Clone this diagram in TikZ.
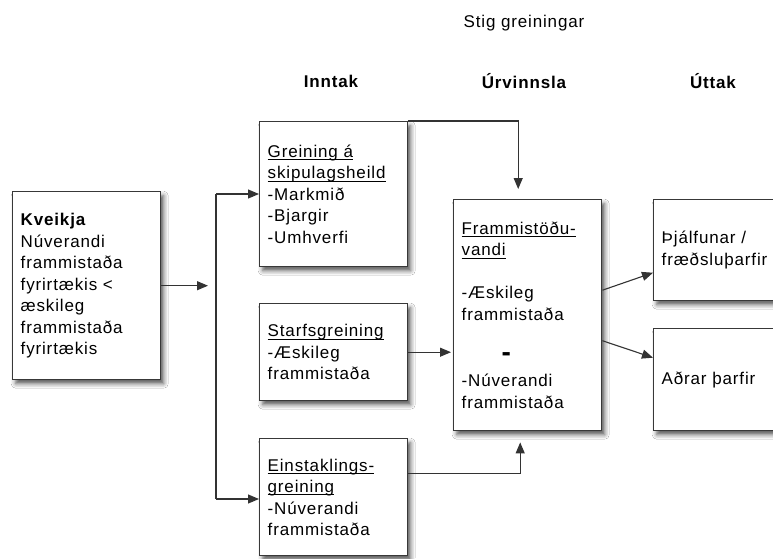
\documentclass[tikz,border=0pt]{standalone}
\usepackage{fontspec}
\setmainfont{Liberation Sans}[LetterSpace=5]
\usetikzlibrary{arrows.meta,shadows.blur}

% underline set just below the baseline, across descenders
\newsavebox\ulsave
\newcommand\ulbox[1]{\leavevmode\sbox\ulsave{#1}\rlap{\rule[-2.8pt]{\wd\ulsave}{0.9pt}}\usebox\ulsave}
\newcommand\bodyfont{\fontsize{17}{21.5}\selectfont}

\tikzset{
  box/.style={draw=black!78, line width=1.4pt, fill=white, rectangle,
    inner xsep=8pt, inner ysep=0pt, align=left, anchor=north west,
    minimum width=148pt, text width=132pt, text=black, font=\bodyfont,
    blur shadow={shadow xshift=3pt, shadow yshift=-4pt,
      shadow blur radius=4.5pt, shadow opacity=65}},
  conn/.style={draw=black!80, line width=1.1pt},
  arr/.style={conn, -{Triangle[length=11pt,width=9pt]}},
  head/.style={font=\bodyfont, text=black},
}

\begin{document}
\begin{tikzpicture}[x=1pt, y=-1pt]
\useasboundingbox (0,0) rectangle (773,558);
\fill[white] (0,0) rectangle (773,558);
\clip (0,0) rectangle (773,558);

% column headings
\node[head] (stig) at (524,23) {Stig greiningar};
\node[head, font=\bodyfont\bfseries] (inntak) at (331,81) {Inntak};
\node[head, font=\bodyfont\bfseries] (urvinnsla) at (524,81) {Úrvinnsla};
\node[head, font=\bodyfont\bfseries] (uttak) at (713,81) {Úttak};

% trigger
\node[box, minimum height=188pt] (kveikja) at (12,191)
  {\textbf{Kveikja}\\Núverandi\\frammistaða\\fyrirtækis <\\æskileg\\frammistaða\\fyrirtækis};

% input analyses
\node[box, minimum height=145pt] (greining) at (259,121)
  {\ulbox{Greining á}\\\ulbox{skipulagsheild}\\-Markmið\\-Bjargir\\-Umhverfi};
\node[box, minimum height=97pt] (starf) at (259,303)
  {\ulbox{Starfsgreining}\\-Æskileg\\frammistaða};
\node[box, minimum height=117pt] (einst) at (259,438)
  {\ulbox{Einstaklings-}\\\ulbox{greining}\\-Núverandi\\frammistaða};

% processing
\node[box, minimum height=231pt] (framm) at (453,199)
  {\ulbox{Frammistöðu-}\\\ulbox{vandi}\\[21.5pt]-Æskileg\\frammistaða\\[20pt]%
   \hspace*{40pt}{\fontsize{28}{21.5}\selectfont\bfseries -}\\[3.5pt]-Núverandi\\frammistaða};

% outputs
\node[box, minimum height=101pt] (thjalf) at (653,199)
  {Þjálfunar /\\fræðsluþarfir};
\node[box, minimum height=102pt] (adrar) at (653,328)
  {Aðrar þarfir};

% connectors
\coordinate (spinetop) at (216,194);
\coordinate (spinebot) at (216,499);
\draw[arr, shorten >=8pt] (kveikja.east) -- (kveikja.east -| spinetop);
\draw[conn] (spinetop) -- (spinebot);
\draw[arr] (spinetop) -- (spinetop -| greining.west);
\draw[arr] (spinebot) -- (spinebot -| einst.west);

\draw[arr, shorten >=10pt] (greining.north east) -| ([xshift=-9.5pt]framm.north);
\draw[arr, shorten >=2pt] (starf.east) -- (starf.east -| framm.west);
\draw[arr, shorten >=11pt] ([yshift=23.5pt]einst.east) -| ([xshift=-7.5pt]framm.south);

\draw[arr] ([yshift=25pt]framm.east) -- ([yshift=-22.5pt]thjalf.west);
\draw[arr] ([yshift=-25.5pt]framm.east) -- ([yshift=22pt]adrar.west);
\end{tikzpicture}
\end{document}
